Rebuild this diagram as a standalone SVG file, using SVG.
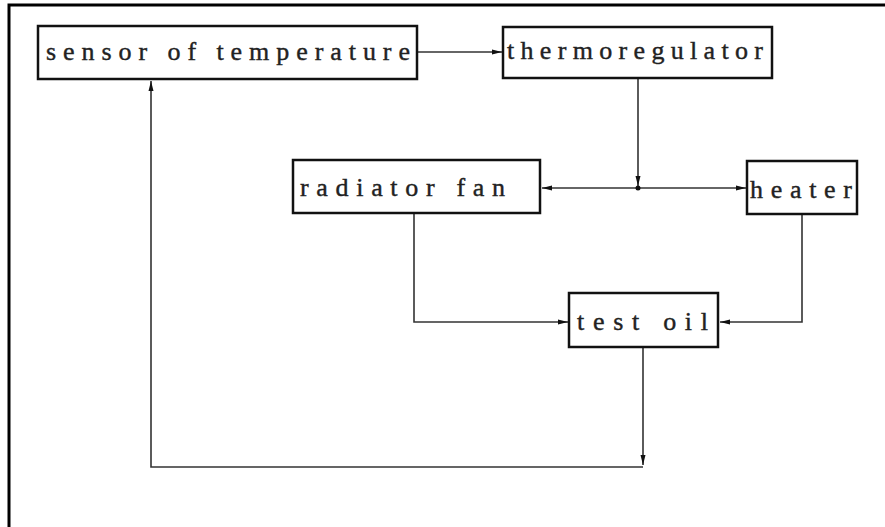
<svg xmlns="http://www.w3.org/2000/svg" width="885" height="527" viewBox="0 0 885 527">
<style>
.box{fill:#fff;stroke:#111;stroke-width:2.5}
.lbl{font-family:"Liberation Serif","DejaVu Serif",serif;font-size:26px;fill:#222;stroke:#222;stroke-width:0.4}
.ln{fill:none;stroke:#333;stroke-width:1.6}
</style>
<defs>
<marker id="ah" viewBox="0 0 10 6" refX="10" refY="3" markerWidth="10" markerHeight="6" markerUnits="userSpaceOnUse" orient="auto">
<path d="M0,0.5 L10,3 L0,5.5 Z" fill="#111"/>
</marker>
</defs>
<rect width="885" height="527" fill="#fff"/>
<path d="M9,527 V5 H885" fill="none" stroke="#000" stroke-width="3"/>
<g id="connectors">
<path class="ln" d="M417,52 H502" marker-end="url(#ah)"/>
<path class="ln" d="M638,78 V186" marker-end="url(#ah)"/>
<path class="ln" d="M638,188 H542" marker-end="url(#ah)"/>
<path class="ln" d="M638,188 H746" marker-end="url(#ah)"/>
<circle cx="638" cy="188" r="2.5" fill="#111"/>
<path class="ln" d="M414,213 V322 H568" marker-end="url(#ah)"/>
<path class="ln" d="M802,214 V322 H720" marker-end="url(#ah)"/>
<path class="ln" d="M643,347 V465" marker-end="url(#ah)"/>
<path class="ln" d="M643,467 H151 V81" marker-end="url(#ah)"/>
</g>
<g id="sensor">
<rect class="box" x="38" y="26" width="379" height="53"/>
<text class="lbl" x="46" y="60" textLength="364" lengthAdjust="spacing">sensor of temperature</text>
</g>
<g id="thermoregulator">
<rect class="box" x="503" y="27" width="269" height="51"/>
<text class="lbl" x="507" y="59" textLength="256" lengthAdjust="spacing">thermoregulator</text>
</g>
<g id="radiator-fan">
<rect class="box" x="293" y="160" width="247" height="53"/>
<text class="lbl" x="300" y="196" textLength="205" lengthAdjust="spacing">radiator fan</text>
</g>
<g id="heater">
<rect class="box" x="747" y="161" width="110" height="53"/>
<text class="lbl" x="750" y="198" textLength="102" lengthAdjust="spacing">heater</text>
</g>
<g id="test-oil">
<rect class="box" x="569" y="293" width="149" height="54"/>
<text class="lbl" x="577" y="330" textLength="131" lengthAdjust="spacing">test oil</text>
</g>
</svg>
